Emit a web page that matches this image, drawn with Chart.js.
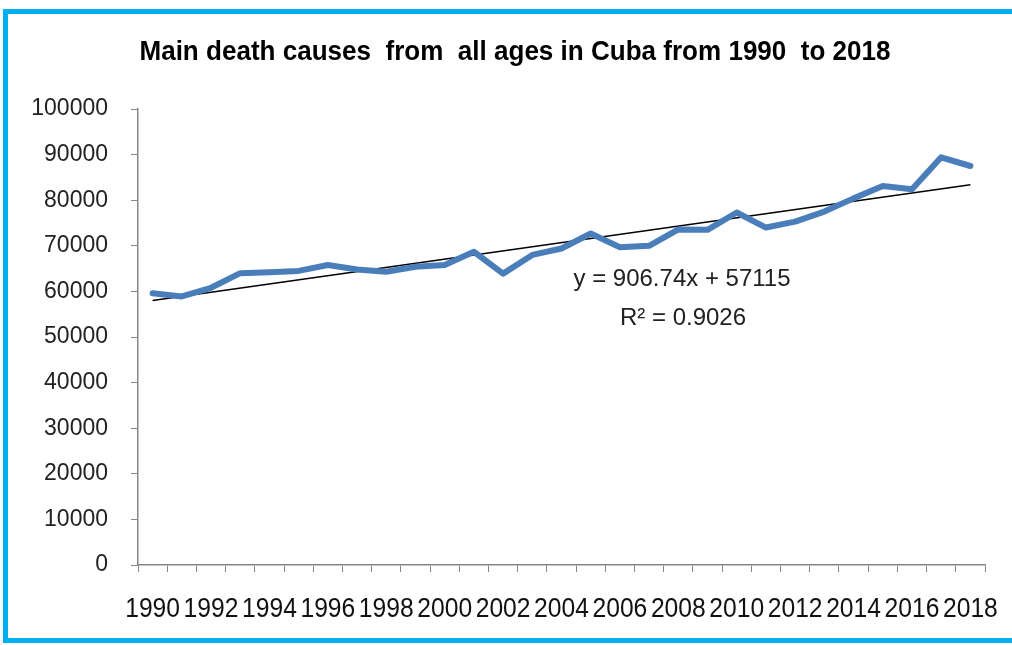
<!DOCTYPE html>
<html>
<head>
<meta charset="utf-8">
<script src="https://cdn.jsdelivr.net/npm/chart.js@4.4.1/dist/chart.umd.min.js"></script>
<style>
  html, body { margin: 0; padding: 0; background: #ffffff; overflow: hidden; }
  #wrap { position: relative; width: 1012px; height: 645px; }
  #frame { position: absolute; left: 3px; top: 9px; width: 1020px; height: 624px;
           border: 5px solid #00B0F0; pointer-events: none; }
  canvas { position: absolute; left: 0; top: 0; }
</style>
</head>
<body>
<div id="wrap">
  <canvas id="c" width="1012" height="645"></canvas>
  <div id="frame"></div>
</div>
<script>
const chartTitle = 'Main death causes  from  all ages in Cuba from 1990  to 2018';
const years = ['1990','1991','1992','1993','1994','1995','1996','1997','1998','1999',
  '2000','2001','2002','2003','2004','2005','2006','2007','2008','2009',
  '2010','2011','2012','2013','2014','2015','2016','2017','2018'];
const deaths = [59600, 58900, 60800, 64000, 64200, 64500, 65800, 64800, 64300, 65400,
  65800, 68700, 63900, 68000, 69400, 72700, 69700, 70000, 73600, 73500,
  77300, 74000, 75300, 77500, 80400, 83100, 82400, 89400, 87500];
const trendStart = 58022;   // trend value at 1990
const trendEnd = 83410;     // trend value at 2018
const trendText = ['y = 906.74x + 57115', 'R² = 0.9026'];
const yTicks = [0, 10000, 20000, 30000, 40000, 50000, 60000, 70000, 80000, 90000, 100000];

const regular = "'Liberation Sans', Arial, sans-serif";

function condensedText(ctx, text, x, y, sx) {
  ctx.save();
  ctx.translate(x, y);
  ctx.scale(sx, 1);
  ctx.fillText(text, 0, 0);
  ctx.restore();
}

const textPlugin = {
  id: 'textPlugin',
  afterDraw(chart) {
    const ctx = chart.ctx;
    ctx.save();
    ctx.textAlign = 'center';
    ctx.textBaseline = 'middle';
    // title
    ctx.fillStyle = '#000';
    ctx.font = 'bold 28px ' + regular;
    condensedText(ctx, chartTitle, 515, 52, 0.93);
    // x tick labels (every second year)
    const xs = chart.scales.x;
    ctx.fillStyle = '#111';
    ctx.font = '28px ' + regular;
    years.forEach((yr, i) => {
      if (i % 2 === 0) condensedText(ctx, yr, xs.getPixelForValue(i), 609, 0.88);
    });
    // trendline equation
    ctx.fillStyle = '#222';
    ctx.font = '24px ' + regular;
    ctx.fillText(trendText[0], 682, 279);
    ctx.fillText(trendText[1], 683, 318);
    ctx.restore();
  }
};

new Chart(document.getElementById('c'), {
  type: 'line',
  data: {
    labels: years,
    datasets: [
      {
        label: 'Deaths',
        data: deaths,
        borderColor: '#4A7EBB',
        borderWidth: 6,
        pointRadius: 0,
        tension: 0,
        fill: false,
        borderJoinStyle: 'round',
        borderCapStyle: 'round'
      },
      {
        label: 'Linear trend',
        data: [{x: years[0], y: trendStart}, {x: years[years.length - 1], y: trendEnd}],
        borderColor: '#000000',
        borderWidth: 1.5,
        pointRadius: 0,
        tension: 0,
        fill: false
      }
    ]
  },
  options: {
    responsive: false,
    animation: false,
    devicePixelRatio: 1,
    layout: { padding: { left: 0, top: 109, right: 27, bottom: 0 } },
    plugins: {
      legend: { display: false },
      title: { display: false },
      tooltip: { enabled: false }
    },
    scales: {
      x: {
        type: 'category',
        offset: true,
        grid: { display: true, drawOnChartArea: false, offset: true, tickLength: 7, color: '#868686' },
        border: { display: true, color: '#868686', width: 1.5 },
        ticks: {
          autoSkip: false,
          maxRotation: 0,
          minRotation: 0,
          callback: () => ''
        },
        afterFit(scale) { scale.height = 80; }
      },
      y: {
        min: 0,
        max: 100000,
        afterBuildTicks(scale) { scale.ticks = yTicks.map(v => ({ value: v })); },
        grid: { display: true, drawOnChartArea: false, tickLength: 7, color: '#868686' },
        border: { display: true, color: '#868686', width: 1.5 },
        ticks: {
          padding: 23,
          color: '#222',
          font: { family: regular, size: 23 },
          callback: v => String(v)
        },
        afterFit(scale) { scale.width = 138; }
      }
    }
  },
  plugins: [textPlugin]
});
</script>
</body>
</html>
